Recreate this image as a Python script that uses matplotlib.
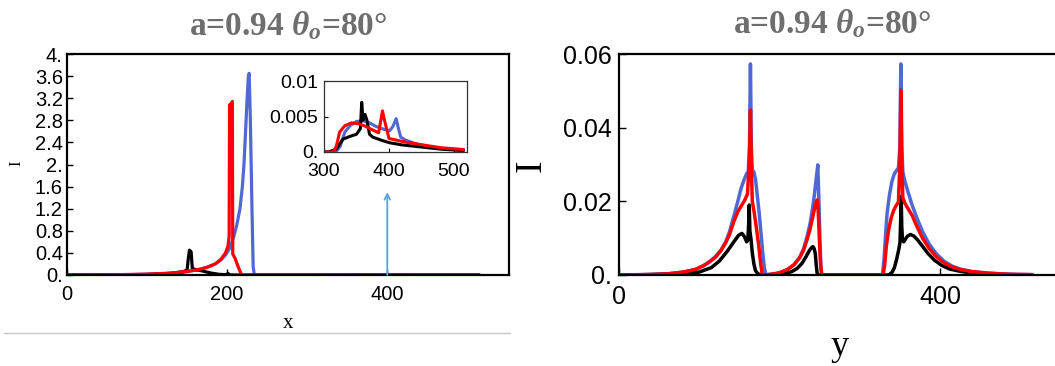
import matplotlib
matplotlib.use("Agg")
import matplotlib.pyplot as plt
from matplotlib.lines import Line2D

# ---------------- data ----------------
# x-profile (left panel), also shown zoomed in inset
blue_x = [0, 50, 100, 130, 150, 165, 175, 185, 192, 198, 203, 208, 212, 216, 219, 221, 223, 225, 226.5, 227.5,
          229, 231, 232.5, 234, 300, 318, 325, 332, 340, 350, 360, 370, 380, 392, 401, 406, 411, 414, 418, 425,
          440, 452, 470, 490, 514]
blue_I = [0, 0.002, 0.012, 0.03, 0.06, 0.1, 0.14, 0.2, 0.27, 0.36, 0.48, 0.68, 0.9, 1.2, 1.6, 2.0, 2.6, 3.2, 3.6, 3.65,
          2.8, 1.2, 0.15, 0, 0, 0, 0.0008, 0.0028, 0.0037, 0.0043, 0.0044, 0.0041, 0.0036, 0.0032, 0.003, 0.0036,
          0.0047, 0.0035, 0.0021, 0.0017, 0.0012, 0.0009, 0.0006, 0.0004, 0.0003]

red_x = [0, 50, 100, 130, 150, 165, 175, 185, 192, 198, 201, 202.5, 203, 205, 206.5, 207, 210, 214, 218, 300,
         314, 319, 324, 332, 342, 352, 362, 375, 384, 390, 393, 400, 410, 425, 452, 480, 514]
red_I = [0, 0.003, 0.015, 0.035, 0.065, 0.1, 0.14, 0.2, 0.28, 0.4, 0.52, 0.7, 3.08, 3.1, 3.14, 0.38, 0.3, 0.14, 0.0, 0,
         0, 0.0008, 0.0028, 0.0037, 0.0041, 0.004, 0.0037, 0.0031, 0.0027, 0.0058, 0.0045, 0.0019, 0.0017, 0.0014,
         0.001, 0.0006, 0.00035]

black_x = [0, 50, 100, 130, 145, 150, 151.5, 153, 155, 156.5, 160, 170, 180, 190, 199, 201, 203, 210, 305, 310,
           319, 329, 340, 350, 356, 358, 360, 363, 366, 370, 375, 390, 401, 420, 450, 480, 514]
black_I = [0, 0.002, 0.01, 0.03, 0.06, 0.09, 0.3, 0.45, 0.42, 0.12, 0.1, 0.07, 0.035, 0.012, 0.005, 0.03, 0.003, 0, 0,
           0.0001, 0.0004, 0.0018, 0.0022, 0.0025, 0.0033, 0.007, 0.0045, 0.0053, 0.0045, 0.0025, 0.0021, 0.0016,
           0.0013, 0.001, 0.0007, 0.0004, 0.0002]

# y-profile (right panel)
blue_y = [0, 40, 60, 80, 95, 105, 113, 120, 127, 133, 138, 143, 148, 152, 156, 159, 161, 162.5, 163.7, 164.8, 166,
          168, 170, 172, 174.5, 177, 179, 181, 183,
          190, 200, 210, 218, 225, 230, 234, 238, 241, 243.5, 245.5, 247.6, 249, 250.5, 251.5, 252.5,
          328, 330, 332, 334, 337, 340, 343, 346, 348, 349.8, 351, 352.2, 353.5, 356, 360, 365, 371, 378, 386, 395,
          405, 415, 425, 440, 460, 485, 514]
blue_Iy = [0, 0.0001, 0.0003, 0.0008, 0.0015, 0.0025, 0.0037, 0.005, 0.0068, 0.009, 0.012, 0.016, 0.02, 0.0235, 0.026,
           0.0275, 0.028, 0.035, 0.0573, 0.035, 0.0285, 0.028, 0.026, 0.022, 0.017, 0.011, 0.006, 0.002, 0,
           0.0002, 0.0006, 0.0015, 0.0028, 0.0048, 0.0072, 0.0102, 0.014, 0.018, 0.022, 0.026, 0.0299, 0.02, 0.008,
           0.002, 0,
           0, 0.004, 0.011, 0.017, 0.022, 0.0255, 0.0275, 0.0285, 0.029, 0.035, 0.0573, 0.035, 0.028, 0.0255, 0.0225,
           0.019, 0.0155, 0.0118, 0.0085, 0.0058, 0.0037, 0.0024, 0.0016, 0.0009, 0.0005, 0.0002, 0.0001]

red_y = [0, 40, 60, 80, 95, 105, 113, 120, 127, 133, 138, 143, 148, 153, 157, 160, 162.5, 163.7, 164.8, 166, 168,
         171, 174, 176.5, 178.5,
         190, 200, 210, 218, 225, 230, 234, 238, 241, 243.5, 245.5, 246.7, 248, 249.5, 251, 252.5,
         329, 331, 333, 336, 339, 342, 345, 348, 349.8, 351, 352.2, 353.5, 356, 360, 365, 371, 378, 386, 395, 405,
         415, 425, 440, 460, 485, 514]
red_Iy = [0, 0.0001, 0.0003, 0.0008, 0.0015, 0.0025, 0.0036, 0.0048, 0.0066, 0.0088, 0.0112, 0.0145, 0.0172, 0.019,
          0.0205, 0.022, 0.032, 0.0448, 0.03, 0.02, 0.0175, 0.013, 0.008, 0.003, 0,
          0.0002, 0.0006, 0.0015, 0.0028, 0.0047, 0.0068, 0.0095, 0.0125, 0.0155, 0.018, 0.0198, 0.0204, 0.018,
          0.01, 0.003, 0,
          0, 0.003, 0.008, 0.0125, 0.0155, 0.0175, 0.0188, 0.0198, 0.03, 0.0502, 0.03, 0.021, 0.0195, 0.018, 0.0162,
          0.0132, 0.01, 0.0073, 0.005, 0.0033, 0.0022, 0.0015, 0.0009, 0.0005, 0.0002, 0.0001]

black_y = [0, 80, 100, 115, 125, 135, 143, 149, 153, 156, 159, 160.5, 161.5, 162.2, 163, 164.5, 166, 168, 170, 173,
           178,
           205, 215, 222, 228, 233, 237, 240, 241.5, 243, 244.5, 245.5, 247,
           336, 340, 343, 346, 348.5, 350, 350.8, 351.4, 352.2, 353, 354.5, 356, 359, 363, 367, 372, 378, 385, 393,
           402, 412, 425, 440, 460, 514]
black_Iy = [0, 0.0003, 0.0008, 0.002, 0.0038, 0.0065, 0.009, 0.0108, 0.0113, 0.0105, 0.009, 0.0095, 0.014, 0.019,
            0.012, 0.0095, 0.006, 0.003, 0.0012, 0.0003, 0,
            0.0003, 0.0009, 0.0018, 0.0032, 0.005, 0.0066, 0.0075, 0.0077, 0.0072, 0.0058, 0.003, 0,
            0, 0.0007, 0.002, 0.0045, 0.007, 0.009, 0.015, 0.0213, 0.013, 0.0098, 0.009, 0.0095, 0.0105, 0.011,
            0.0106, 0.0095, 0.0078, 0.0058, 0.004, 0.0026, 0.0016, 0.001, 0.0005, 0.0002, 0]

left_yticks = [0, 0.4, 0.8, 1.2, 1.6, 2.0, 2.4, 2.8, 3.2, 3.6, 4.0]
left_yticklabels = ["0.", "0.4", "0.8", "1.2", "1.6", "2.", "2.4", "2.8", "3.2", "3.6", "4."]
left_xticks = [0, 200, 400]
left_xticklabels = ["0", "200", "400"]
inset_xticks = [300, 400, 500]
inset_xticklabels = ["300", "400", "500"]
inset_yticks = [0, 0.005, 0.01]
inset_yticklabels = ["0.", "0.005", "0.01"]
right_yticks = [0, 0.02, 0.04, 0.06]
right_yticklabels = ["0.", "0.02", "0.04", "0.06"]
right_xticks = [0, 400]
right_xticklabels = ["0", "400"]
arrow_x = 400
arrow_top = 1.5
title_text = "a=0.94 $\\theta_o$=80°"

# ---------------- style ----------------
plt.rcParams['mathtext.fontset'] = 'custom'
plt.rcParams['mathtext.rm'] = 'Liberation Serif:bold'
plt.rcParams['mathtext.it'] = 'Liberation Serif:italic:bold'
plt.rcParams['mathtext.bf'] = 'Liberation Serif:bold'
plt.rcParams['font.family'] = ['Liberation Sans', 'DejaVu Sans']

BLUE = '#4f68d2'
RED = '#ff0000'
BLACK = '#000000'
GREY_T = '#6e6e6e'

W, H = 1055, 366
fig = plt.figure(figsize=(W / 100, H / 100), dpi=100)


def rect(l, r, t, b):
    return [l / W, 1 - b / H, (r - l) / W, (b - t) / H]


# left main
ax1 = fig.add_axes(rect(67, 509, 54, 275))
for xs, ys, c in [(blue_x, blue_I, BLUE), (black_x, black_I, BLACK), (red_x, red_I, RED)]:
    ax1.plot(xs, ys, color=c, lw=2.3)
ax1.set_xlim(0, 552)
ax1.set_ylim(0, 4)
ax1.set_xticks(left_xticks)
ax1.set_xticklabels(left_xticklabels)
ax1.set_yticks(left_yticks)
ax1.set_yticklabels(left_yticklabels)
ax1.tick_params(direction='in', length=4, width=1, labelsize=14.5, pad=3)
ax1.tick_params(axis='x', pad=7)
for s in ax1.spines.values():
    s.set_linewidth(1.6)
ax1.annotate('', xy=(arrow_x, arrow_top), xytext=(arrow_x, 0),
             arrowprops=dict(arrowstyle='->', color='#5aa2e0', lw=1.3, shrinkA=0, shrinkB=0))

# inset
axi = fig.add_axes(rect(324, 467, 81, 152))
for xs, ys, c in [(blue_x, blue_I, BLUE), (black_x, black_I, BLACK), (red_x, red_I, RED)]:
    axi.plot(xs, ys, color=c, lw=2.2)
axi.set_xlim(300, 520)
axi.set_ylim(0, 0.01)
axi.set_xticks(inset_xticks)
axi.set_xticklabels(inset_xticklabels)
axi.set_yticks(inset_yticks)
axi.set_yticklabels(inset_yticklabels)
axi.tick_params(direction='in', length=3, width=0.8, labelsize=14, pad=4)
axi.tick_params(axis='x', pad=8)
for s in axi.spines.values():
    s.set_linewidth(0.9)
    s.set_color('#333333')

# right
ax2 = fig.add_axes(rect(619, 1055, 54, 275))
for xs, ys, c in [(blue_y, blue_Iy, BLUE), (black_y, black_Iy, BLACK), (red_y, red_Iy, RED)]:
    ax2.plot(xs, ys, color=c, lw=2.5)
ax2.set_xlim(0, 543)
ax2.set_ylim(0, 0.06)
ax2.set_xticks(right_xticks)
ax2.set_xticklabels(right_xticklabels)
ax2.set_yticks(right_yticks)
ax2.set_yticklabels(right_yticklabels)
ax2.tick_params(direction='in', length=5, width=1, labelsize=18, pad=5)
ax2.tick_params(axis='x', pad=7)
ax2.spines['right'].set_visible(False)
for s in ax2.spines.values():
    s.set_linewidth(1.6)

# titles and labels
fig.text(288 / W, 1 - 35 / H, title_text, ha='center', va='baseline', color=GREY_T,
         fontsize=24, fontweight='bold', family='Liberation Serif')
fig.text(832 / W, 1 - 33 / H, title_text, ha='center', va='baseline', color=GREY_T,
         fontsize=24, fontweight='bold', family='Liberation Serif')
fig.text(288 / W, 1 - 328 / H, 'x', ha='center', va='baseline', fontsize=15, family='Liberation Serif')
fig.text(16 / W, 1 - 163 / H, 'I', ha='center', va='center', rotation=90, fontsize=12, family='Liberation Serif')
fig.text(531 / W, 1 - 166 / H, 'I', ha='center', va='center', rotation=90, fontsize=27, family='Liberation Serif')
fig.text(840 / W, 1 - 355 / H, 'y', ha='center', va='baseline', fontsize=26, family='Liberation Serif')

fig.add_artist(Line2D([4 / W, 510 / W], [1 - 333 / H, 1 - 333 / H], transform=fig.transFigure,
                      color='#c6c6c6', lw=1))

fig.savefig('out.png', dpi=100)
